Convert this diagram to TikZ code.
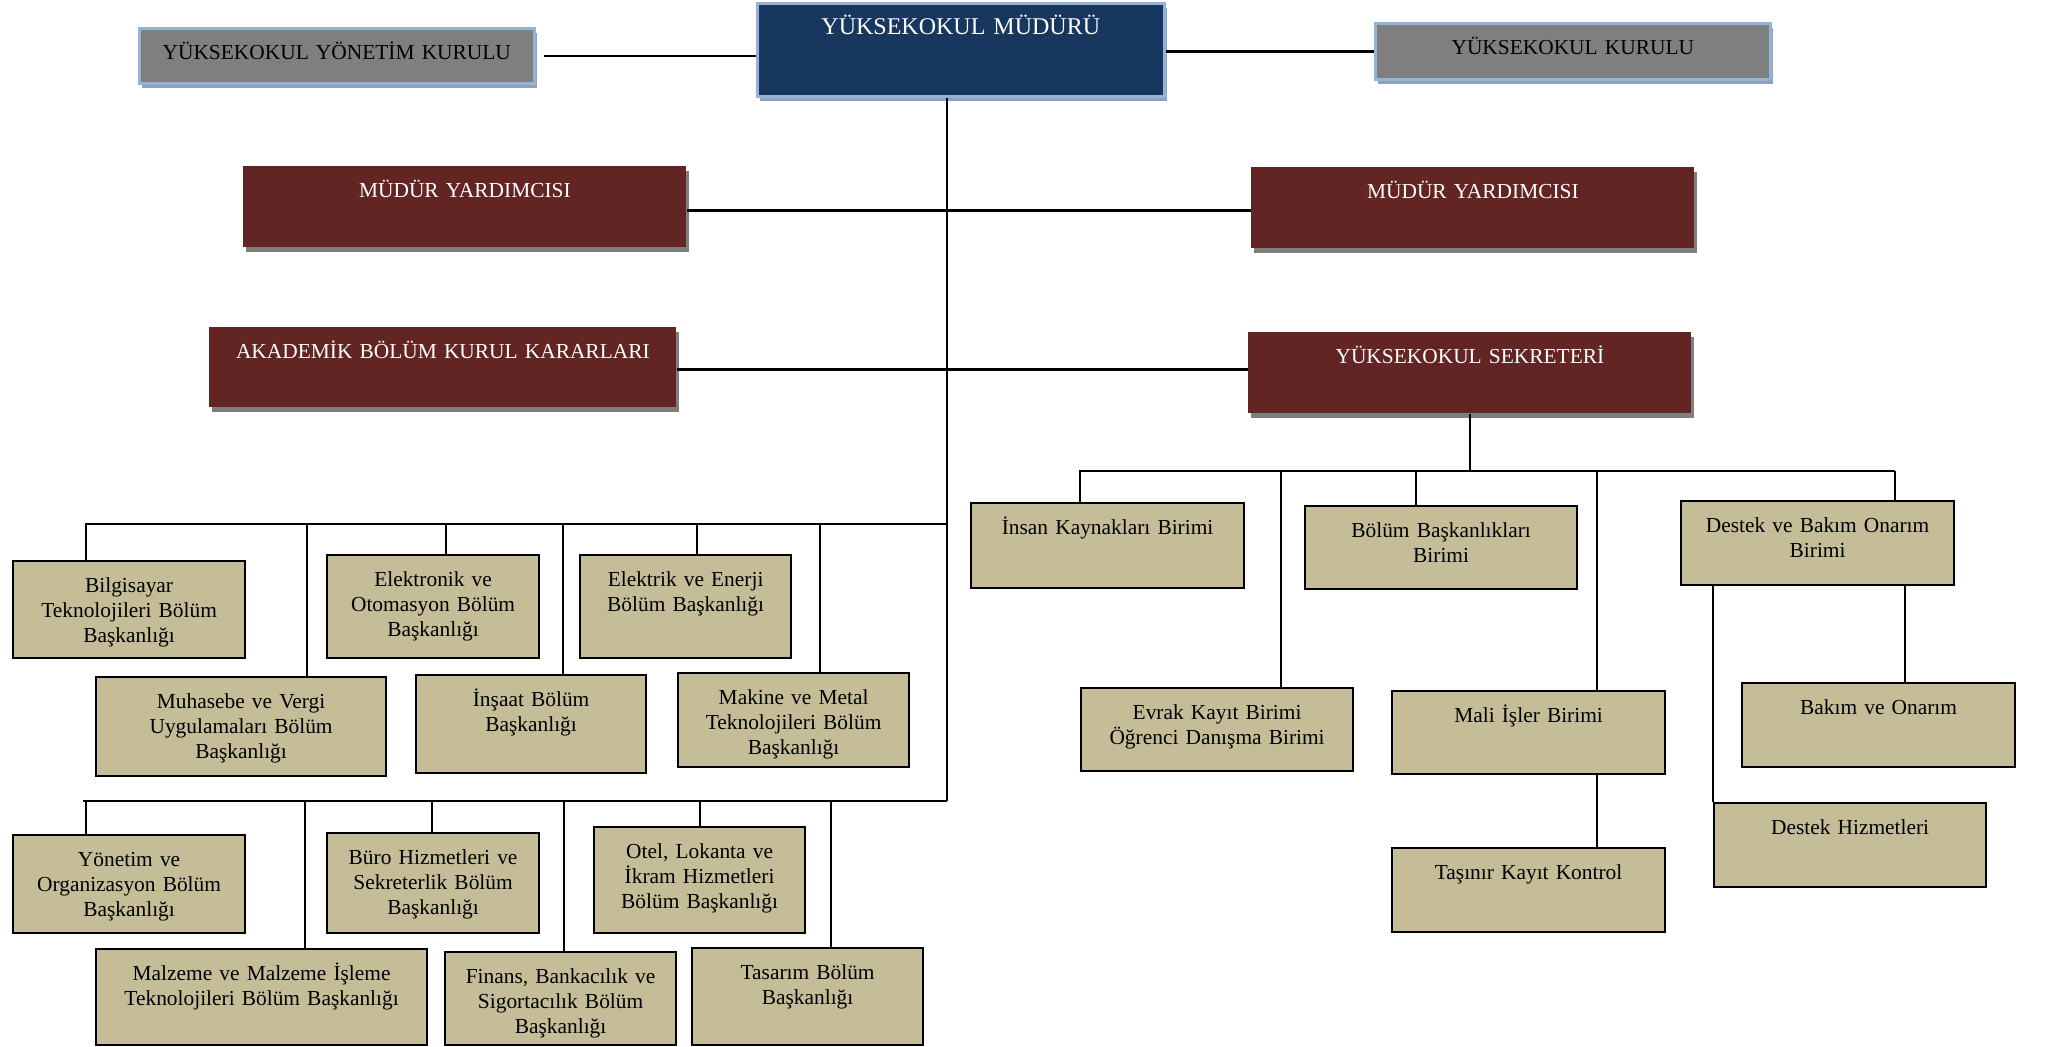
\documentclass[tikz,border=0pt]{standalone}
\usepackage{fontspec}
\setmainfont{Liberation Serif}
\usetikzlibrary{positioning,shadows}

\definecolor{navy}{HTML}{17375E}
\definecolor{darkred}{HTML}{632523}
\definecolor{tanfill}{HTML}{C4BD97}
\definecolor{boxgray}{HTML}{7F7F7F}
\definecolor{paleblue}{HTML}{95B3D7}
\definecolor{shadeblue}{HTML}{8FA2BC}
\definecolor{shadegray}{HTML}{7F7F7F}

\tikzset{
  boxsize/.style 2 args={anchor=north west, minimum width=#1*0.5pt, text width=#1*0.5pt, text depth=#2*0.5pt-15.5pt},
  boxbase/.style={inner sep=0pt, align=center, text height=15.5pt, font=\fontsize{10.7}{12.5}\selectfont},
  graybox/.style={boxbase, fill=boxgray, draw=paleblue, line width=1.3pt,
    drop shadow={fill=shadeblue, opacity=1, shadow xshift=1.5pt, shadow yshift=-2.5pt}},
  redbox/.style={boxbase, fill=darkred, text=white,
    drop shadow={fill=shadegray, opacity=1, shadow xshift=1.5pt, shadow yshift=-2.5pt}},
  tanbox/.style={boxbase, fill=tanfill, draw=black, line width=1.1pt},
  bus/.style={line width=1.2pt},
  vline/.style={line width=1pt},
}

\begin{document}
\begin{tikzpicture}[x=0.5pt, y=-0.5pt]
\useasboundingbox (0,0) rectangle (2046,1046);
% ust kademe
\node[graybox, boxsize={395}{55}] (ykyk) at (138,27) {YÜKSEKOKUL YÖNETİM KURULU};
\node[graybox, fill=navy, text=white, boxsize={407}{93}, font=\fontsize{12}{14}\selectfont] (mudur) at (756,2) {YÜKSEKOKUL MÜDÜRÜ};
\node[graybox, boxsize={395}{56}] (ykk) at (1374,22) {YÜKSEKOKUL KURULU};
\node[redbox, boxsize={443}{81}] (myl) at (243,166) {MÜDÜR YARDIMCISI};
\node[redbox, boxsize={443}{81}] (myr) at (1251,167) {MÜDÜR YARDIMCISI};
\node[redbox, boxsize={467}{80}] (akad) at (209,327) {AKADEMİK BÖLÜM KURUL KARARLARI};
\node[redbox, boxsize={443}{81}] (sek) at (1248,332) {YÜKSEKOKUL SEKRETERİ};
% bolum baskanliklari
\node[tanbox, boxsize={232}{97}] (bilg) at (12,560) {Bilgisayar\\Teknolojileri Bölüm\\Başkanlığı};
\node[tanbox, boxsize={290}{99}] (muh) at (95,676) {Muhasebe ve Vergi\\Uygulamaları Bölüm\\Başkanlığı};
\node[tanbox, boxsize={212}{103}] (elek) at (326,554) {Elektronik ve\\Otomasyon Bölüm\\Başkanlığı};
\node[tanbox, boxsize={230}{98}] (insaat) at (415,674) {İnşaat Bölüm\\Başkanlığı};
\node[tanbox, boxsize={211}{103}] (elkt) at (579,554) {Elektrik ve Enerji\\Bölüm Başkanlığı};
\node[tanbox, boxsize={231}{94}] (mak) at (677,672) {Makine ve Metal\\Teknolojileri Bölüm\\Başkanlığı};
\node[tanbox, boxsize={232}{98}] (yon) at (12,834) {Yönetim ve\\Organizasyon Bölüm\\Başkanlığı};
\node[tanbox, boxsize={331}{96}] (malz) at (95,948) {Malzeme ve Malzeme İşleme\\Teknolojileri Bölüm Başkanlığı};
\node[tanbox, boxsize={212}{100}] (buro) at (326,832) {Büro Hizmetleri ve\\Sekreterlik Bölüm\\Başkanlığı};
\node[tanbox, boxsize={231}{93}] (fin) at (444,951) {Finans, Bankacılık ve\\Sigortacılık Bölüm\\Başkanlığı};
\node[tanbox, boxsize={211}{106}] (otel) at (593,826) {Otel, Lokanta ve\\İkram Hizmetleri\\Bölüm Başkanlığı};
\node[tanbox, boxsize={231}{97}] (tas) at (691,947) {Tasarım Bölüm\\Başkanlığı};
% sekreterlik birimleri
\node[tanbox, boxsize={273}{85}] (ins) at (970,502) {İnsan Kaynakları Birimi};
\node[tanbox, boxsize={272}{83}] (evrak) at (1080,687) {Evrak Kayıt Birimi\\Öğrenci Danışma Birimi};
\node[tanbox, boxsize={272}{83}] (bbb) at (1304,505) {Bölüm Başkanlıkları\\Birimi};
\node[tanbox, boxsize={273}{83}] (mali) at (1391,690) {Mali İşler Birimi};
\node[tanbox, boxsize={273}{84}] (dbo) at (1680,500) {Destek ve Bakım Onarım\\Birimi};
\node[tanbox, boxsize={273}{84}] (tasinir) at (1391,847) {Taşınır Kayıt Kontrol};
\node[tanbox, boxsize={273}{84}] (bako) at (1741,682) {Bakım ve Onarım};
\node[tanbox, boxsize={272}{84}] (dhiz) at (1713,802) {Destek Hizmetleri};

% baglantilar
\draw[bus] ([xshift=4pt]ykyk.east) -- (ykyk.east -| mudur.west);
\draw[bus] (mudur.east |- ykk.west) -- (ykk.west);
\coordinate (stem) at ([xshift=-6.75pt]mudur.south);
\coordinate (bus1) at (85,524);
\coordinate (bus2) at (83,801);
\coordinate (bus3) at (1079,471);
\draw[vline] (stem) -- (stem |- bus2);
\draw[bus] ([yshift=-1.75pt]myl.east) -- ([yshift=-1.75pt]myl.east -| myr.west);
\draw[bus] ([yshift=-1pt]akad.east) -- ([yshift=-1pt]akad.east -| sek.west);
\draw[bus] (bus1) -- (bus1 -| stem);
\draw[bus] (bus2) -- (bus2 -| stem);
\foreach \nd/\x in {bilg/86,muh/307,elek/446,insaat/563,elkt/697,mak/820}{
  \coordinate (\nd-in) at (\x,524);
  \draw[vline] (\nd-in) -- (\nd-in |- \nd.north);
}
\foreach \nd/\x in {yon/86,malz/305,buro/432,fin/564,otel/700,tas/831}{
  \coordinate (\nd-in) at (\x,801);
  \draw[vline] (\nd-in) -- (\nd-in |- \nd.north);
}
\draw[vline] (sek.south) -- (sek.south |- bus3);
\foreach \nd/\x in {ins/1080,evrak/1281,bbb/1416,mali/1597,dbo/1895}{
  \coordinate (\nd-in) at (\x,471);
  \draw[vline] (\nd-in) -- (\nd-in |- \nd.north);
}
\draw[bus] (bus3) -- (dbo-in);
\draw[vline] (mali.south -| mali-in) -- (tasinir.north -| mali-in);
\draw[vline] ([xshift=112.5pt]dbo.south west) -- ([xshift=112.5pt]dbo.south west |- bako.north);
\draw[vline] ([xshift=16.5pt]dbo.south west) -- (dhiz.north west);
\end{tikzpicture}
\end{document}
